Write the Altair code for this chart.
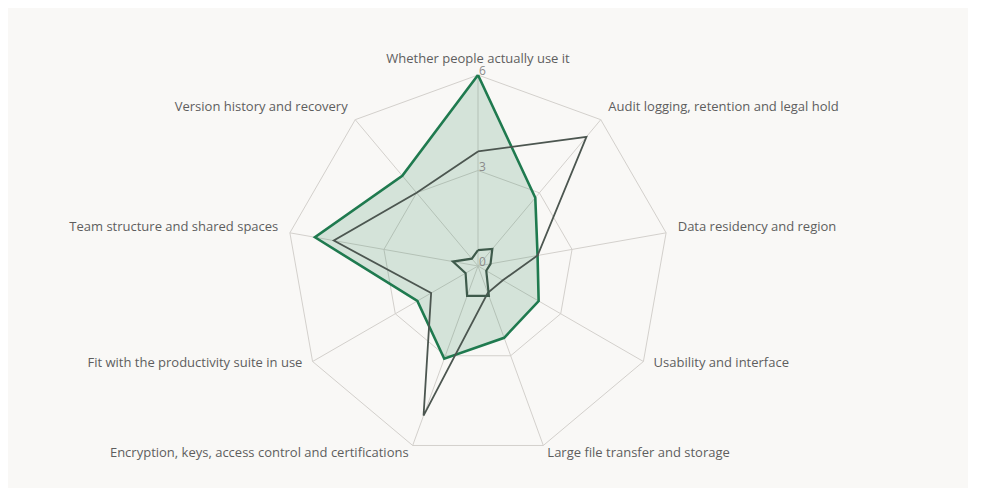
import pandas as pd
import altair as alt

categories = [
    "Whether people actually use it",
    "Audit logging, retention and legal hold",
    "Data residency and region",
    "Usability and interface",
    "Large file transfer and storage",
    "Encryption, keys, access control and certifications",
    "Fit with the productivity suite in use",
    "Team structure and shared spaces",
    "Version history and recovery",
]
series_names = ["Series A", "Series B", "Series C"]
series_a = [6.0, 2.8, 1.9, 2.2, 2.4, 3.1, 2.2, 5.2, 3.7]
series_b = [3.6, 5.3, 1.9, 0.9, 0.9, 5.0, 1.7, 4.6, 3.0]
series_c = [0.5, 0.7, 0.4, 0.3, 1.0, 1.0, 0.45, 0.8, 0.3]
grid_levels = [3, 6]
tick_values = [0, 3, 6]

N = len(categories)
W, H = 960, 480
CX, CY = 470, 258          # centre of the radar inside the plot area (px)
UNIT = 191 / 6             # px per value unit
LABEL_R = 6.37

x_dom = [-CX / UNIT, (W - CX) / UNIT]
y_dom = [-(H - CY) / UNIT, CY / UNIT]

ANGLE = f"datum.idx * 2 * PI / {N}"


def polygon_rows(name, values):
    rows = []
    for i in range(N + 1):
        rows.append({"series": name, "idx": i, "value": values[i % N]})
    return rows


series_df = pd.DataFrame(
    polygon_rows(series_names[0], series_a)
    + polygon_rows(series_names[1], series_b)
    + polygon_rows(series_names[2], series_c)
)
grid_df = pd.DataFrame(
    [{"level": lv, "idx": i, "value": lv} for lv in grid_levels for i in range(N + 1)]
)
spoke_df = pd.DataFrame({"idx": list(range(N)), "value": [max(grid_levels)] * N})
label_df = pd.DataFrame({"idx": list(range(N)), "category": categories})
tick_df = pd.DataFrame({"value": tick_values, "label": [str(t) for t in tick_values]})

xs = alt.Scale(domain=x_dom, nice=False, zero=False)
ys = alt.Scale(domain=y_dom, nice=False, zero=False)


def xy(chart, r="datum.value"):
    return chart.transform_calculate(
        x=f"{r} * sin({ANGLE})", y=f"{r} * cos({ANGLE})"
    )


X = alt.X("x:Q", scale=xs, axis=None)
Y = alt.Y("y:Q", scale=ys, axis=None)

grid = xy(alt.Chart(grid_df)).mark_line(color="#d3d0cc", strokeWidth=1).encode(
    x=X, y=Y, detail="level:N", order="idx:Q"
)

spokes = xy(alt.Chart(spoke_df)).transform_calculate(x0="0", y0="0").mark_rule(
    color="#d3d0cc", strokeWidth=1
).encode(
    x=alt.X("x0:Q", scale=xs, axis=None),
    y=alt.Y("y0:Q", scale=ys, axis=None),
    x2="x:Q",
    y2="y:Q",
)


def series_layer(name, **style):
    return xy(
        alt.Chart(series_df).transform_filter(alt.datum.series == name)
    ).mark_line(**style).encode(x=X, y=Y, order="idx:Q")


layer_a = series_layer(
    series_names[0], stroke="#1f7a4f", strokeWidth=2.6, fill="#1f7a4f",
    fillOpacity=0.17, strokeJoin="miter"
)
layer_b = series_layer(series_names[1], stroke="#4c5650", strokeWidth=1.8)
layer_c = series_layer(series_names[2], stroke="#3e5a4b", strokeWidth=2.2)

ticks = alt.Chart(tick_df).transform_calculate(x="0", y="datum.value").mark_text(
    align="left", baseline="middle", dx=1, dy=-4, fontSize=12,
    font="Open Sans", color="#8a8a8a"
).encode(x=X, y=Y, text="label:N")


def label_layer(cond, align):
    return xy(
        alt.Chart(label_df).transform_filter(cond), r=str(LABEL_R)
    ).mark_text(
        align=align, baseline="middle", dy=-4, fontSize=13,
        font="Open Sans", color="#5e5e5e"
    ).encode(x=X, y=Y, text="category:N")


labels_c = label_layer("datum.idx == 0", "center")
labels_l = label_layer(f"datum.idx > 0 && datum.idx < {N / 2}", "left")
labels_r = label_layer(f"datum.idx > {N / 2}", "right")

chart = alt.layer(
    grid, spokes, layer_a, layer_b, layer_c, ticks, labels_c, labels_l, labels_r
).properties(
    width=W, height=H, padding=0, autosize="none", background="#f9f8f6"
).configure_view(stroke=None)

chart.save("out.html", embed_options={"renderer": "svg", "actions": False})
